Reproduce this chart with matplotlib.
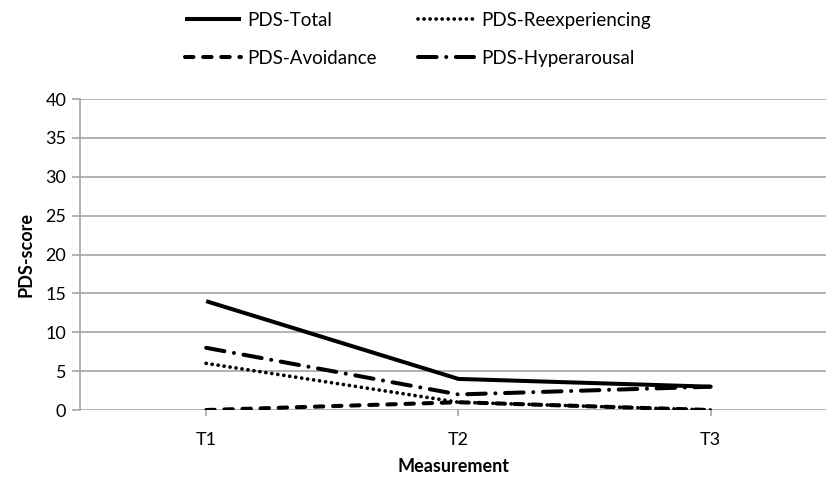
import matplotlib
matplotlib.use('Agg')
import matplotlib.pyplot as plt

# data
measurements = ['T1', 'T2', 'T3']
pds_total = [14, 4, 3]
pds_reexperiencing = [6, 1, 0]
pds_avoidance = [0, 1, 0]
pds_hyperarousal = [8, 2, 3]

plt.rcParams['font.family'] = ['Lato', 'DejaVu Sans']

fig = plt.figure(figsize=(8.26, 4.83), dpi=100)
ax = fig.add_axes([0.0969, 0.1511, 0.9031, 0.6439])

x = range(len(measurements))
lw = 2.9
# dash lengths are in units of linewidth; round caps add one lw to each dash
l_total, = ax.plot(x, pds_total, color='black', lw=lw, solid_capstyle='butt', label='PDS-Total')
l_reexp, = ax.plot(x, pds_reexperiencing, color='black', lw=2.7, dashes=(0.01, 1.6),
                   dash_capstyle='round', label='PDS-Reexperiencing')
l_avoid, = ax.plot(x, pds_avoidance, color='black', lw=lw, dashes=(2.1, 2.4),
                   dash_capstyle='round', label='PDS-Avoidance')
l_hyper, = ax.plot(x, pds_hyperarousal, color='black', lw=lw, dashes=(4.6, 2.4, 0.01, 2.4),
                   dash_capstyle='round', label='PDS-Hyperarousal')

ax.set_xlim(-0.5, 2.457)
ax.set_ylim(0, 40)
ax.set_yticks(range(0, 41, 5))
ax.set_xticks(list(x))
ax.set_xticklabels(measurements)
ax.yaxis.grid(True, color='#a6a6a6', lw=1.2)
ax.set_axisbelow(True)
for s in ['top', 'right', 'bottom']:
    ax.spines[s].set_visible(False)
ax.spines['left'].set_color('#a6a6a6')
ax.spines['left'].set_linewidth(1.2)
ax.tick_params(axis='y', colors='#a6a6a6', length=6, width=1.2, labelsize=13, labelcolor='black', pad=4)
ax.tick_params(axis='x', colors='#a6a6a6', length=4, width=1.2, labelsize=13, labelcolor='black', pad=12)

ax.set_xlabel('Measurement', fontsize=13, fontweight='bold', labelpad=7)
ax.set_ylabel('PDS-score', fontsize=13, fontweight='bold', labelpad=8)

fig.legend([l_total, l_avoid, l_reexp, l_hyper],
           ['PDS-Total', 'PDS-Avoidance', 'PDS-Reexperiencing', 'PDS-Hyperarousal'],
           ncol=2, loc='upper left', bbox_to_anchor=(0.203, 1.01), frameon=False,
           fontsize=13.5, handlelength=3.0, handletextpad=0.35, columnspacing=2.2,
           labelspacing=1.1)

fig.savefig('out.png', dpi=100)
